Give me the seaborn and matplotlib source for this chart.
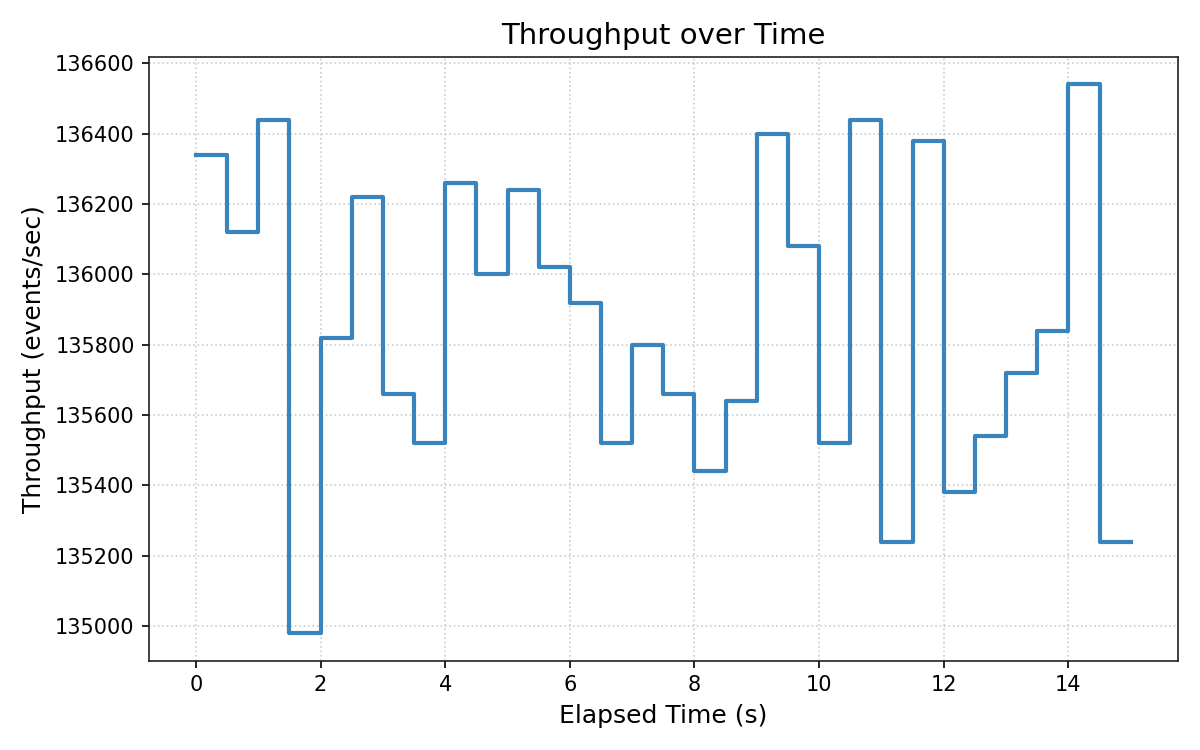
import pandas as pd
import matplotlib
matplotlib.use("Agg")
import matplotlib.pyplot as plt
import seaborn as sns

# elapsed time (s) at the start of each 0.5 s window, plus the end point
elapsed = [0.0, 0.5, 1.0, 1.5, 2.0, 2.5, 3.0, 3.5, 4.0, 4.5,
           5.0, 5.5, 6.0, 6.5, 7.0, 7.5, 8.0, 8.5, 9.0, 9.5,
           10.0, 10.5, 11.0, 11.5, 12.0, 12.5, 13.0, 13.5, 14.0, 14.5, 15.0]

# throughput (events/sec) for each window; last value repeated for the end point
throughput = [136340, 136120, 136440, 134980, 135820, 136220, 135660, 135520, 136260, 136000,
              136240, 136020, 135920, 135520, 135800, 135660, 135440, 135640, 136400, 136080,
              135520, 136440, 135240, 136380, 135380, 135540, 135720, 135840, 136540, 135240,
              135240]

df = pd.DataFrame({"elapsed": elapsed, "throughput": throughput})

fig, ax = plt.subplots(figsize=(8, 5), dpi=150)
sns.lineplot(data=df, x="elapsed", y="throughput", ax=ax,
             drawstyle="steps-post", color="#3a84be", linewidth=2)

ax.grid(True, linestyle=":", color="#cccccc", linewidth=0.8)
ax.set_axisbelow(True)
ax.set_title("Throughput over Time", fontsize=14)
ax.set_xlabel("Elapsed Time (s)", fontsize=12)
ax.set_ylabel("Throughput (events/sec)", fontsize=12)
ax.ticklabel_format(axis="y", style="plain", useOffset=False)
ax.tick_params(labelsize=10)
for s in ax.spines.values():
    s.set_color("#222222")

plt.tight_layout()
plt.savefig("out.png", dpi=150)
